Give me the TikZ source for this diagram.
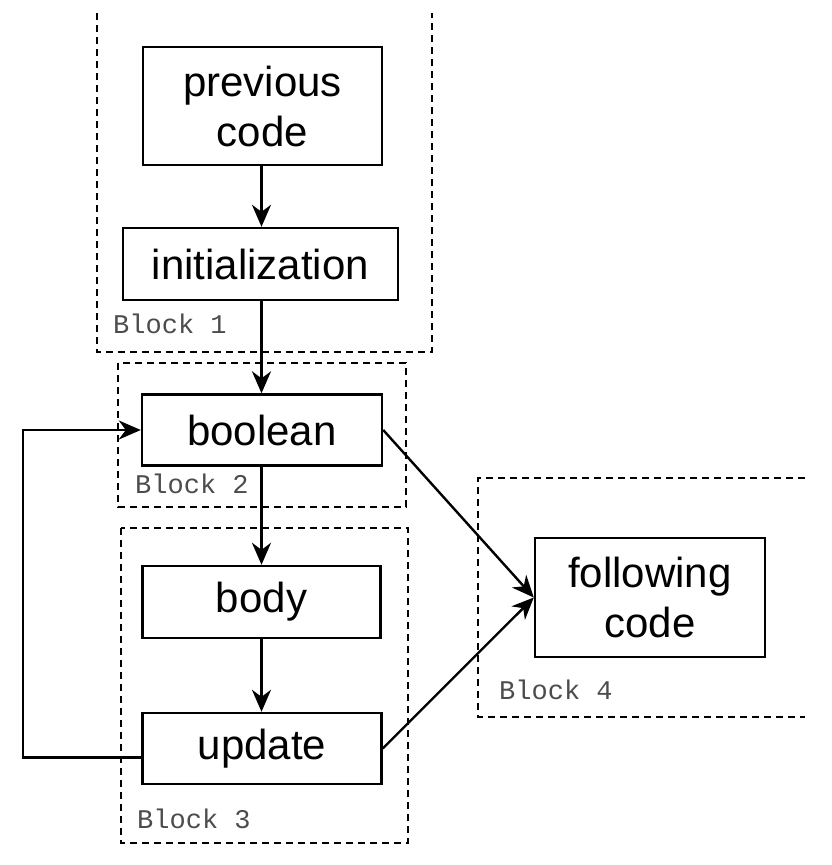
\documentclass[tikz,border=0pt]{standalone}
\usepackage{fontspec}
\setmainfont{Liberation Sans}
\newfontfamily\blockfont{Liberation Mono}
\usetikzlibrary{arrows.meta}
\begin{document}
\begin{tikzpicture}[x=1pt,y=-1pt,
  stepbox/.style={draw,line width=2.4pt,inner sep=0pt,align=center,
    font=\fontsize{42}{50}\selectfont},
  blockline/.style={draw,line width=2.2pt,dash pattern=on 7pt off 5pt},
  blocklabel/.style={anchor=base west,inner sep=0pt,text=black!70,
    font=\blockfont\fontsize{27}{30}\selectfont},
  conn/.style={line width=2.4pt,-{Stealth[length=22pt,width=19pt,inset=7pt]}},
  plain/.style={line width=2.4pt}]
\useasboundingbox (0,0) rectangle (832,865);
% blocks
\draw[blockline] (97,13) -- (97,352) -- (432,352) -- (432,13);
\draw[blockline] (118,363) rectangle (406,507);
\draw[blockline] (121,528) rectangle (408,843);
\draw[blockline] (805,478) -- (478,478) -- (478,717) -- (805,717);
\node[blocklabel] (l1) at (113,333) {Block 1};
\node[blocklabel] (l2) at (135,493) {Block 2};
\node[blocklabel] (l3) at (137,828) {Block 3};
\node[blocklabel] (l4) at (499,699) {Block 4};
% steps
\node[stepbox,minimum width=239pt,minimum height=118pt] (prev) at (262.5,106) {previous\\code};
\node[stepbox,minimum width=275pt,minimum height=72pt] (init) at (260.5,264) {initialization};
\node[stepbox,minimum width=240pt,minimum height=71pt] (bool) at (262,430) {boolean};
\node[stepbox,minimum width=238pt,minimum height=72pt] (body) at (261.5,602) {body};
\node[stepbox,minimum width=239pt,minimum height=71pt] (upd) at (262,748.5) {update};
\node[stepbox,minimum width=230pt,minimum height=119pt] (fol) at (650,597.5) {following\\code};
% connectors
\coordinate (axis) at (261.5,0);
\draw[conn] (axis |- prev.south) -- (axis |- init.north);
\draw[conn] (axis |- init.south) -- (axis |- bool.north);
\draw[conn] (axis |- bool.south) -- (axis |- body.north);
\draw[conn] (axis |- body.south) -- (axis |- upd.north);
\coordinate (loopA) at ([yshift=-9pt]upd.west);
\coordinate (loopB) at (23,757.5);
\coordinate (loopC) at (23,430);
\draw[conn] (loopA) -- (loopB) -- (loopC) -- (bool.west);
\draw[conn] (bool.east) -- (fol.west);
\draw[conn] (upd.east) -- (fol.west);
\end{tikzpicture}
\end{document}
